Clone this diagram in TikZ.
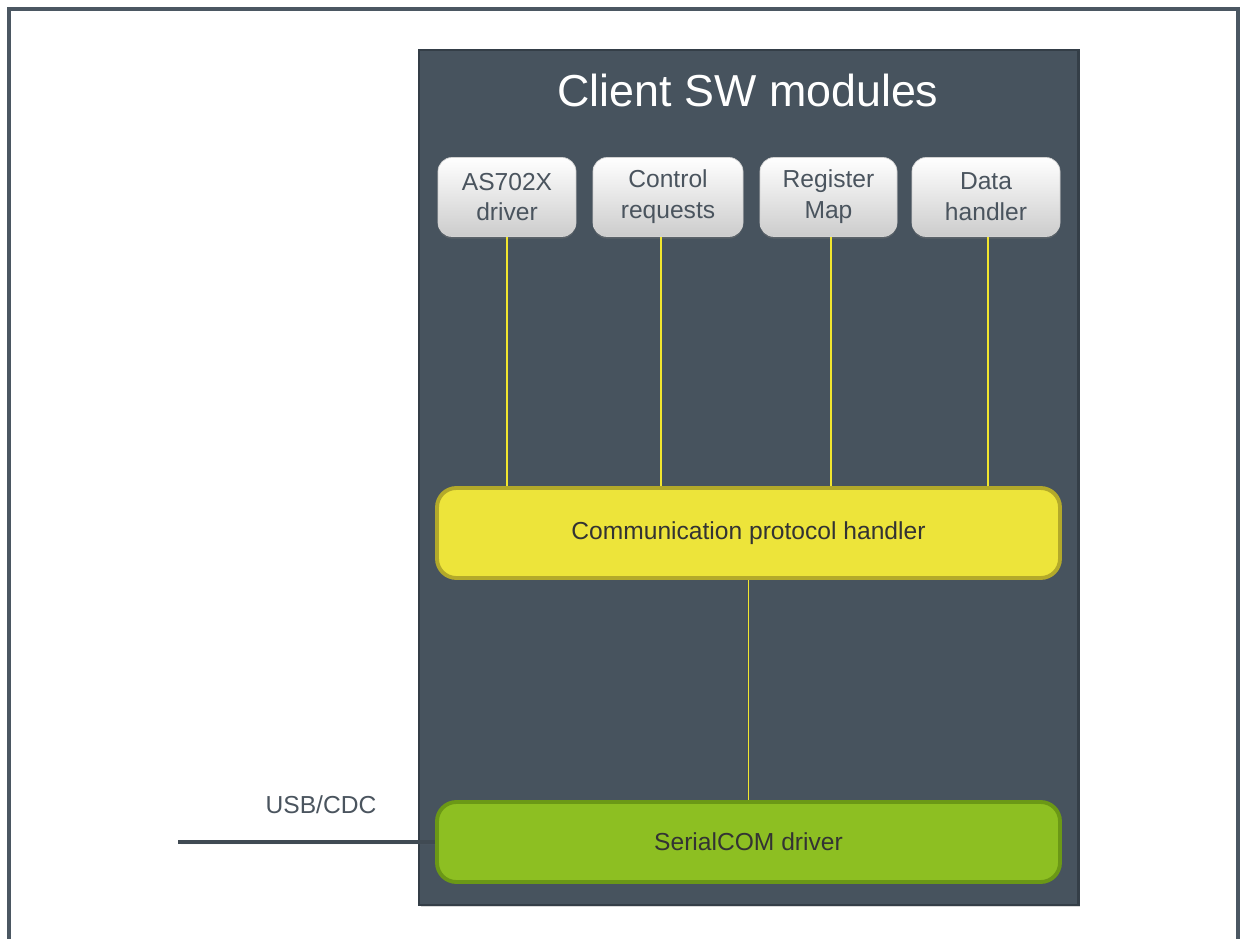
\documentclass[tikz,border=0pt]{standalone}
\usepackage{fontspec}
\setmainfont{Liberation Sans}
\usetikzlibrary{shadows}
\definecolor{frameGray}{HTML}{4B5762}
\definecolor{panelFill}{HTML}{47535E}
\definecolor{panelLine}{HTML}{343E47}
\definecolor{boxText}{HTML}{4A545E}
\definecolor{cphFill}{HTML}{EDE43A}
\definecolor{cphLine}{HTML}{B3A92A}
\definecolor{serFill}{HTML}{8DBF22}
\definecolor{serLine}{HTML}{6B9816}
\definecolor{wireYellow}{HTML}{F2E62E}
\tikzset{
  module/.style={draw=gray!35, rounded corners=8pt, top color=white, bottom color=gray!40,
    text=boxText, align=center, inner sep=0pt, minimum height=79*0.02cm,
    drop shadow={shadow xshift=0pt, shadow yshift=-1.2pt, opacity=0.35},
    font=\fontsize{14}{17.5}\selectfont},
  layer/.style={line width=2.2pt, rounded corners=11pt, minimum width=623*0.02cm,
    inner sep=0pt, text=black!80, font=\fontsize{14}{17}\selectfont},
  wire/.style={draw=wireYellow, line width=1pt}
}
\begin{document}
\begin{tikzpicture}[x=0.02cm, y=-0.02cm]
\useasboundingbox (0,0) rectangle (1245,939);
% outer frame
\draw[frameGray, line width=1.9pt] (9,939) -- (9,9) -- (1238,9) -- (1238,939);
% panel
\node[draw=panelLine, fill=panelFill, line width=1.7pt, minimum width=659*0.02cm,
  minimum height=855*0.02cm, inner sep=0pt,
  drop shadow={shadow xshift=1pt, shadow yshift=-1pt, opacity=0.3}] (panel) at (748.5,477.5) {};
\node[text=white, font=\fontsize{25.5}{30}\selectfont] (title) at (748,90) {Client SW modules};

\node[module, minimum width=138*0.02cm] (drv) at (507,197) {AS702X\\driver};
\node[module, minimum width=150*0.02cm] (ctrl) at (668,197) {Control\\requests};
\node[module, minimum width=137*0.02cm] (reg) at (828.5,197) {Register\\Map};
\node[module, minimum width=148*0.02cm] (data) at (986,197) {Data\\handler};

\node[layer, draw=cphLine, fill=cphFill, minimum height=90*0.02cm] (cph) at (748.5,533) {Communication protocol handler};
\node[layer, draw=serLine, fill=serFill, minimum height=80*0.02cm] (ser) at (748.5,842) {SerialCOM driver};

\path[wire] (drv.south) -- (drv.south |- cph.north);
\path[wire] ([xshift=-0.14cm]ctrl.south) -- ([xshift=-0.14cm]ctrl.south |- cph.north);
\path[wire] ([xshift=0.05cm]reg.south) -- ([xshift=0.05cm]reg.south |- cph.north);
\path[wire] ([xshift=0.04cm]data.south) -- ([xshift=0.04cm]data.south |- cph.north);
\path[wire] (cph.south) -- (ser.north);

\node[text=boxText, font=\fontsize{14}{17}\selectfont] (usb) at (321,805) {USB/CDC};
\coordinate (host) at (178,842);
\path[draw=frameGray!85!black, line width=2.3pt,
  drop shadow={shadow xshift=1.5pt, shadow yshift=-1.5pt, opacity=0.3}] (host) -- (ser.west);
\end{tikzpicture}
\end{document}
